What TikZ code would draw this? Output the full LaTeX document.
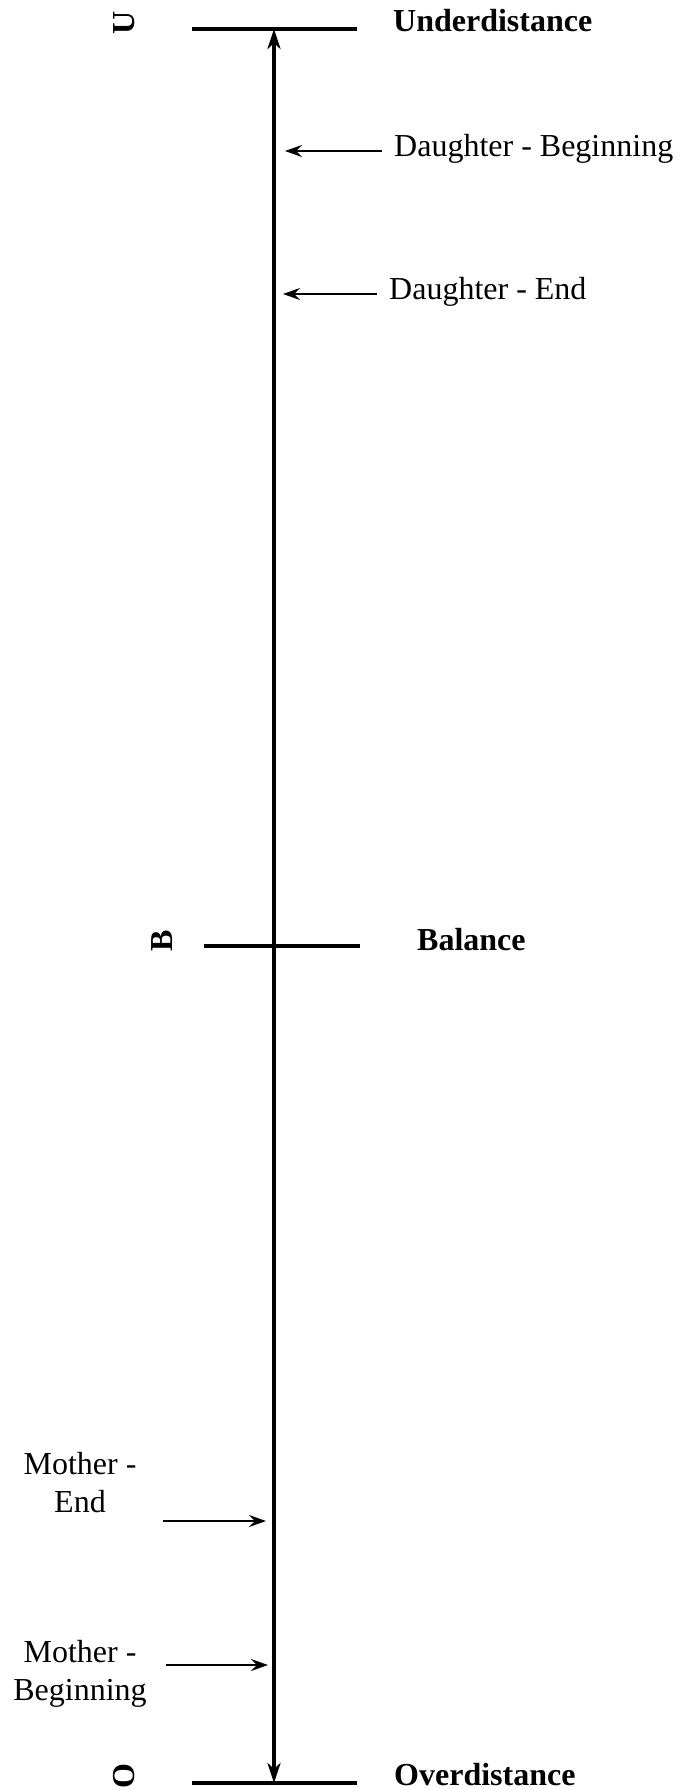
\documentclass[tikz,border=0pt]{standalone}
\usepackage{fontspec}
\setmainfont{Liberation Serif}
\usetikzlibrary{arrows.meta}
\begin{document}
\begin{tikzpicture}[x=1pt,y=-1pt,
  lbl/.style={font=\fontsize{32}{38}\selectfont, inner sep=0pt, anchor=base west},
  blbl/.style={lbl, font=\fontsize{32}{38}\selectfont\bfseries},
  rlet/.style={font=\fontsize{32}{38}\selectfont\bfseries, inner sep=0pt, rotate=90},
  bar/.style={line width=4.2pt},
  axis/.style={line width=3.6pt, {Stealth[length=20,width=13,inset=6]}-{Stealth[length=20,width=13,inset=6]}},
  ptr/.style={line width=1.8pt, -{Stealth[length=17,width=12,inset=6]}},
  mlbl/.style={font=\fontsize{32}{38}\selectfont, inner sep=0pt, align=center}
]
\useasboundingbox (0,0) rectangle (678,1790);
% bars
\coordinate (ul) at (192,29); \coordinate (ur) at (357,29);
\coordinate (bl) at (204,946); \coordinate (br) at (360,946);
\coordinate (ol) at (192,1783); \coordinate (or) at (357,1783);
\draw[bar] (ul) -- (ur);
\draw[bar] (bl) -- (br);
\draw[bar] (ol) -- (or);
% axis
\coordinate (top) at (274,29);
\coordinate (bot) at (274,1783);
\draw[axis] (bot) -- (top);
% letters
\node[rlet] (U) at (124,23) {U};
\node[rlet] (B) at (162,941) {B};
\node[rlet] (O) at (124,1776) {O};
% labels
\node[blbl] (under) at (393,32) {Underdistance};
\node[blbl] (bal) at (417,950) {Balance};
\node[blbl] (over) at (394,1785) {Overdistance};
\node[lbl] (db) at (394,157) {Daughter - Beginning};
\node[lbl] (de) at (389,299) {Daughter - End};
\node[mlbl] (me) at (80,1483) {Mother -\\End};
\node[mlbl] (mb) at (80,1674) {Mother -\\Beginning};
% pointers
\coordinate (dbs) at (382,151); \coordinate (dbt) at (285,151);
\coordinate (des) at (377,294); \coordinate (det) at (283,294);
\coordinate (mes) at (163,1521); \coordinate (met) at (266,1521);
\coordinate (mbs) at (166,1665); \coordinate (mbt) at (268,1665);
\draw[ptr] (dbs) -- (dbt);
\draw[ptr] (des) -- (det);
\draw[ptr] (mes) -- (met);
\draw[ptr] (mbs) -- (mbt);
\end{tikzpicture}
\end{document}
